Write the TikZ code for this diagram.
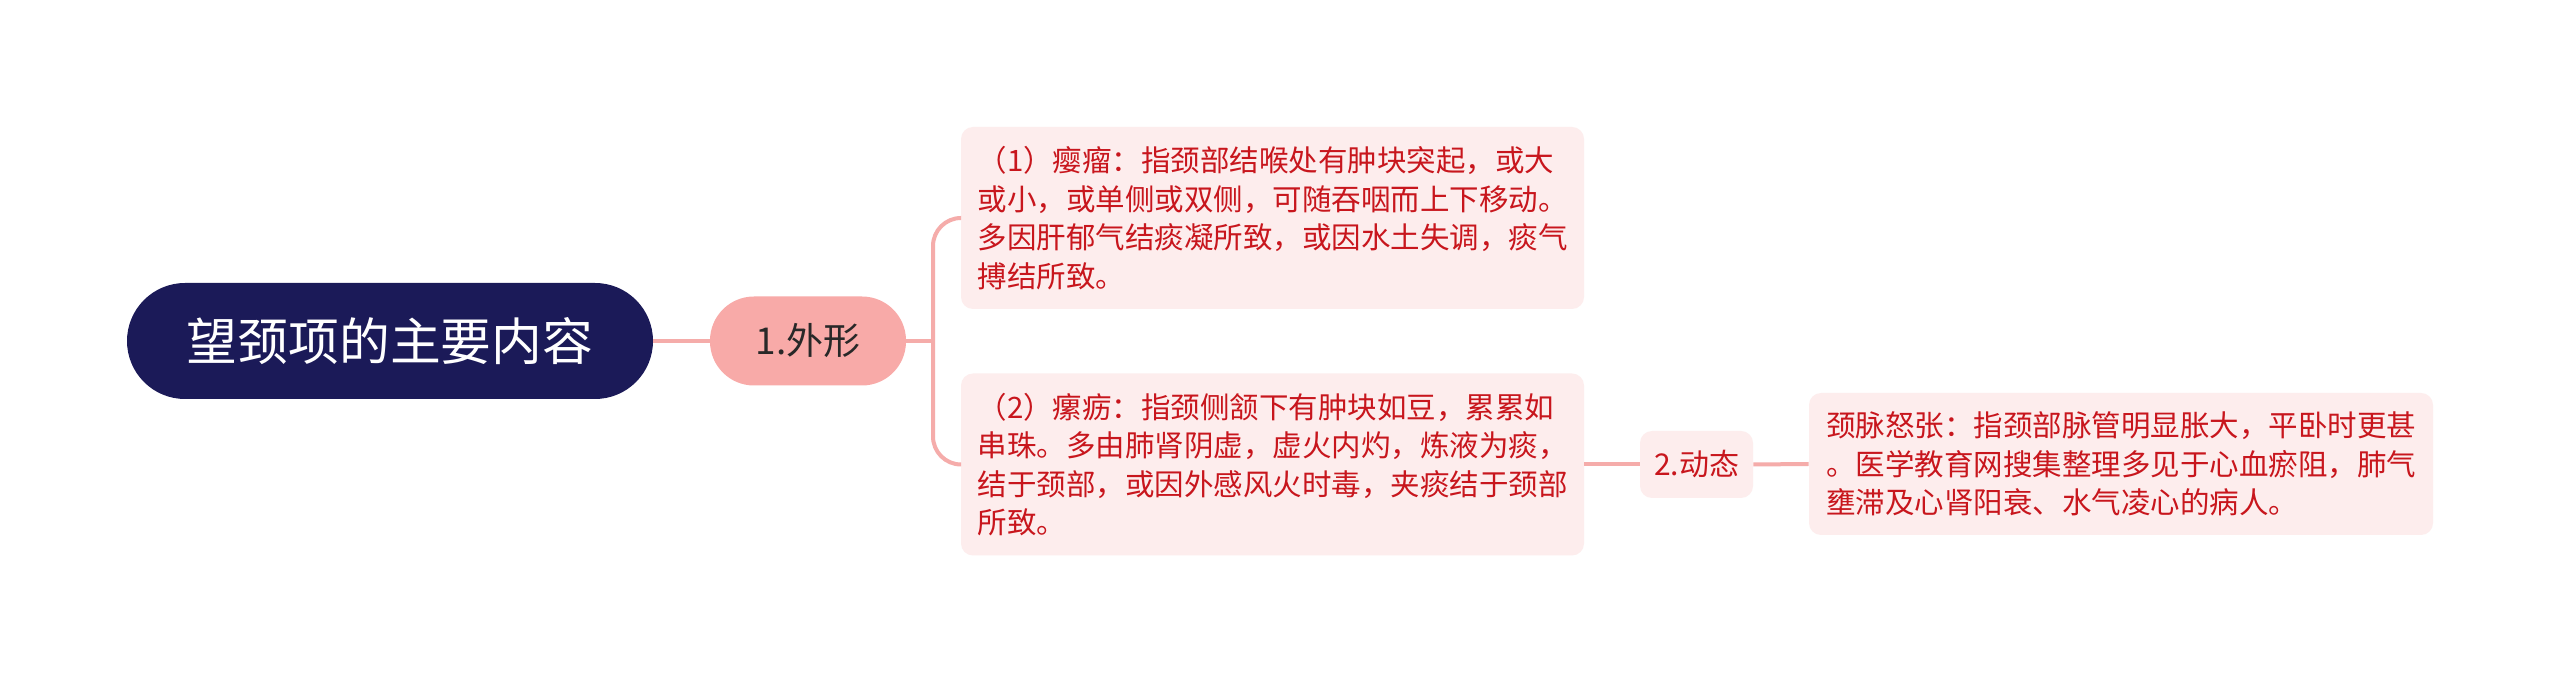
\documentclass[tikz,border=0pt]{standalone}
\usepackage{fontspec}
\setmainfont{Noto Sans CJK SC}
\definecolor{rootfill}{RGB}{27,26,88}
\definecolor{topicfill}{RGB}{248,170,168}
\definecolor{topictext}{RGB}{40,40,40}
\definecolor{leaffill}{RGB}{253,237,237}
\definecolor{leaftext}{RGB}{200,22,29}
\definecolor{linkcol}{RGB}{245,172,170}
\begin{document}
\begin{tikzpicture}[x=0.5pt,y=-0.5pt,
  rootnode/.style={fill=rootfill, text=white, rounded corners=29pt, minimum width=263pt, minimum height=58pt, inner sep=0pt, font=\fontsize{25.4pt}{30pt}\selectfont},
  topicnode/.style={fill=topicfill, text=topictext, rounded corners=22pt, minimum width=98pt, minimum height=44.5pt, inner sep=0pt, font=\fontsize{18.5pt}{22pt}\selectfont},
  smalltopic/.style={fill=leaffill, text=leaftext, rounded corners=6pt, minimum width=56.5pt, minimum height=33.5pt, inner sep=0pt, font=\fontsize{15pt}{19pt}\selectfont},
  leafbox/.style={fill=leaffill, text=leaftext, rounded corners=6pt, minimum width=311.5pt, inner sep=0pt, align=left, font=\fontsize{14.75pt}{19.2pt}\selectfont},
  link/.style={draw=linkcol, line width=2pt}]
\useasboundingbox (0,0) rectangle (2560,683);
\fill[white] (0,0) rectangle (2560,683);

\node[rootnode] (root) at (390,341) {望颈项的主要内容};
\node[topicnode] (n1) at (808,341) {1.外形};
\node[leafbox, minimum height=91pt] (b1) at (1272.5,218) {（1）瘿瘤：指颈部结喉处有肿块突起，或大\\或小，或单侧或双侧，可随吞咽而上下移动。\\多因肝郁气结痰凝所致，或因水土失调，痰气\\搏结所致。};
\node[leafbox, minimum height=91pt] (b2) at (1272.5,464.5) {（2）瘰疬：指颈侧颔下有肿块如豆，累累如\\串珠。多由肺肾阴虚，虚火内灼，炼液为痰，\\结于颈部，或因外感风火时毒，夹痰结于颈部\\所致。};
\node[smalltopic] (n2) at (1696.5,464.5) {2.动态};
\node[leafbox, minimum width=312pt, minimum height=71pt] (b3) at (2121,464) {颈脉怒张：指颈部脉管明显胀大，平卧时更甚\\。医学教育网搜集整理多见于心血瘀阻，肺气\\壅滞及心肾阳衰、水气凌心的病人。};

\coordinate (sp) at (933,341);
\draw[link] (root.east) -- (n1.west);
\draw[link] (n1.east) -- (sp);
\draw[link, rounded corners=14pt] (b1.west) -- (b1.west -| sp) -- (b2.west -| sp) -- (b2.west);
\draw[link] (b2.east) -- (n2.west);
\draw[link] (n2.east) -- (b3.west);
\end{tikzpicture}
\end{document}
